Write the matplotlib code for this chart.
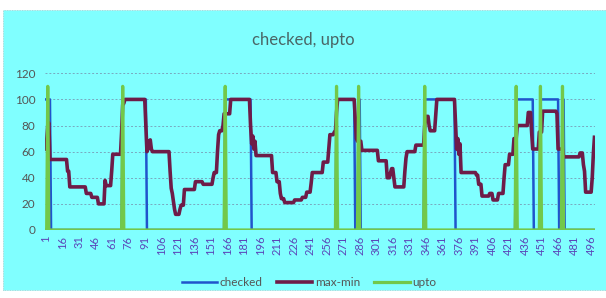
import numpy as np
import matplotlib
matplotlib.use("Agg")
import matplotlib.pyplot as plt
from matplotlib.patches import Rectangle

N = 499  # categories 1..499

# max-min series as runs of held values
mm_values = [62, 68, 80, 82, 54, 45, 33, 28, 25, 20, 38, 34, 45, 58, 75, 96, 97, 100,
             80, 60, 62, 68, 69, 62, 60, 45, 32, 28, 22, 16, 12, 16, 19, 31, 37, 35, 40, 44,
             60, 73, 76, 80, 89, 100,
             80, 66, 72, 62, 68, 57, 44, 37, 28, 24, 21, 23, 25, 29, 36, 44, 52, 62, 73, 75, 90, 100,
             85, 70, 68, 61, 53, 40, 44, 47, 40, 33, 45, 55, 60, 65, 80, 87, 80, 76, 88, 100,
             80, 62, 70, 58, 66, 44, 42, 35, 26, 28, 23, 28, 40, 50, 58, 70, 80, 90, 75, 62, 75,
             91, 89, 62, 56, 59, 50, 45, 29, 40, 58, 71]
mm_lengths = [1, 1, 1, 1, 16, 2, 15, 5, 6, 6, 1, 5, 1, 8, 1, 1, 1, 19,
              1, 1, 1, 1, 1, 1, 16, 1, 1, 1, 1, 1, 4, 1, 3, 10, 7, 9, 1, 3,
              1, 1, 3, 1, 6, 18,
              1, 1, 1, 1, 1, 15, 4, 3, 1, 3, 9, 7, 4, 4, 1, 10, 5, 1, 4, 2, 1, 16,
              1, 1, 4, 15, 8, 3, 1, 2, 1, 9, 1, 1, 8, 8, 1, 3, 1, 5, 1, 17,
              1, 1, 1, 1, 1, 14, 2, 3, 7, 3, 5, 5, 1, 4, 4, 3, 10, 3, 1, 6, 3,
              13, 1, 5, 15, 3, 1, 1, 6, 1, 1, 1]

# checked = 100 on these index ranges (inclusive), else 0
checked_start = [1, 71, 164, 265, 285, 345, 428, 450, 470]
checked_end = [5, 92, 187, 281, 286, 372, 443, 466, 471]
checked_high = 100

# upto spikes (value 110 at these indices, else 0)
upto_idx = [3, 71, 164, 265, 285, 345, 428, 450, 470]
upto_high = 110

tick_labels = [str(v) for v in range(1, N + 1, 15)]

x = np.arange(1, N + 1)
maxmin = np.repeat(mm_values, mm_lengths)[:N]
if len(maxmin) < N:
    maxmin = np.concatenate([maxmin, np.full(N - len(maxmin), maxmin[-1])])
checked = np.zeros(N)
for s, e in zip(checked_start, checked_end):
    checked[s - 1:e] = checked_high
upto = np.zeros(N)
for i in upto_idx:
    upto[i - 1] = upto_high

plt.rcParams['font.family'] = ['Lato', 'DejaVu Sans']

fig = plt.figure(figsize=(6.06, 2.98), dpi=100, facecolor='white')
bg = '#80ffff'
fig.patches.append(Rectangle((3 / 606, 1 - 290 / 298), 603 / 606, 280 / 298,
                             transform=fig.transFigure, facecolor=bg,
                             edgecolor='#9ad0d0', lw=0.6, ls=(0, (1, 1)), zorder=-10))

ax = fig.add_axes([45 / 606, 1 - 230 / 298, 550 / 606, (230 - 73.3) / 298])
ax.set_zorder(1)
ax.patch.set_alpha(0)

l1, = ax.plot(x, checked, color='#2054cc', lw=1.8, label='checked', zorder=3)
l2, = ax.plot(x, maxmin, color='#6e1c48', lw=2.6, label='max-min', zorder=4)
l3, = ax.plot(x, upto, color='#72c84a', lw=2.3, label='upto', zorder=5)

ax.set_xlim(0.5, N + 0.5)
ax.set_ylim(0, 120)
ax.set_yticks(range(0, 121, 20))
ax.set_xticks(range(1, N + 1, 15))
ax.set_xticklabels(tick_labels, rotation=90, fontsize=8, color='#5b45b8')
ax.tick_params(axis='y', labelsize=8.5, colors='#555555', length=0, pad=7)
ax.tick_params(axis='x', length=0, pad=4)
ax.grid(axis='y', color='#78a8c0', lw=0.7, ls=(0, (2, 2)))
ax.set_axisbelow(True)
for s in ax.spines.values():
    s.set_visible(False)

fig.text(0.5, 1 - 40 / 298, 'checked, upto', ha='center', va='center',
         fontsize=12, color='#4a6666')

leg = fig.legend(handles=[l1, l2, l3], loc='center', bbox_to_anchor=(0.51, 1 - 283 / 298),
                 ncol=3, frameon=False, fontsize=8.5, handlelength=3.0, columnspacing=1.2,
                 handletextpad=0.2)
for t in leg.get_texts():
    t.set_color('#555555')

fig.savefig('out.png', dpi=100, facecolor='white')
